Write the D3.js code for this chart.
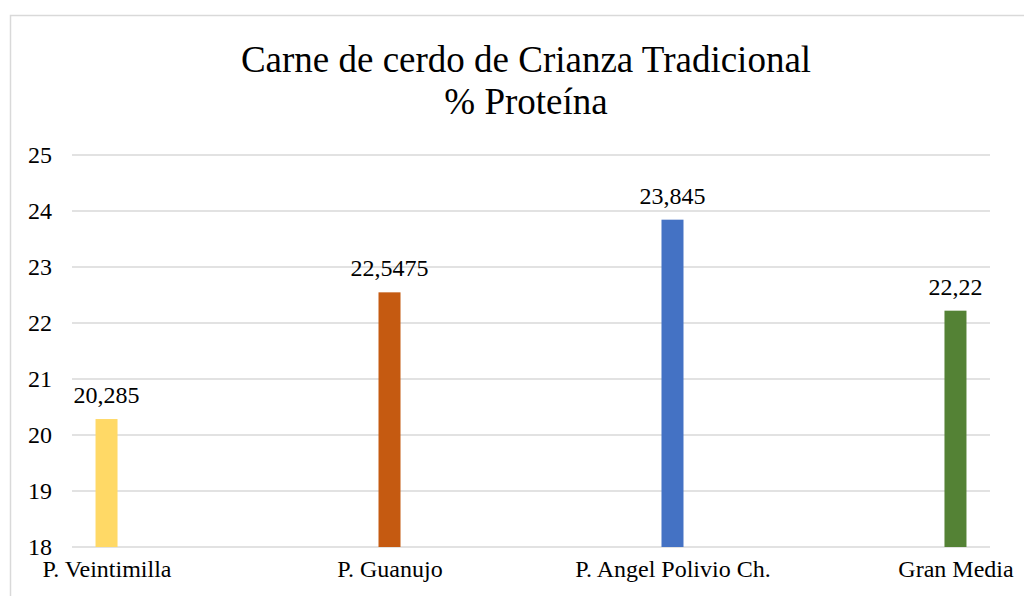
<!DOCTYPE html>
<html>
<head>
<meta charset="utf-8">
<script src="https://cdn.jsdelivr.net/npm/d3@7"></script>
<style>
  html, body { margin: 0; padding: 0; background: #fff; }
  svg text { font-family: "Liberation Serif", "Times New Roman", serif; fill: #000; }
</style>
</head>
<body>
<div id="chart"></div>
<script>
// chart data
const categories = ["P. Veintimilla", "P. Guanujo", "P. Angel Polivio Ch.", "Gran Media"];
const proteina = [20.285, 22.5475, 23.845, 22.22];
const valueLabels = ["20,285", "22,5475", "23,845", "22,22"];
const barColors = ["#FFD966", "#C55A11", "#4472C4", "#548235"];
const yTicks = [18, 19, 20, 21, 22, 23, 24, 25];
const titleLines = ["Carne de cerdo de Crianza Tradicional", "% Proteína"];

const W = 1024, H = 596;
const margin = { top: 155, right: 34, bottom: 49, left: 72 };
const width = W - margin.left - margin.right;
const height = H - margin.top - margin.bottom;
const serif = "'Liberation Serif', 'Times New Roman', serif";

const svg = d3.select("#chart")
    .append("svg")
    .attr("width", W)
    .attr("height", H);

// outer chart border (right and bottom run off the picture)
svg.append("rect")
    .attr("x", 10.5)
    .attr("y", 15.5)
    .attr("width", W + 20)
    .attr("height", H + 20)
    .attr("fill", "none")
    .attr("stroke", "#d9d9d9")
    .attr("stroke-width", 1.5);

// title
svg.append("g")
    .selectAll("text")
    .data(titleLines)
    .enter()
    .append("text")
    .attr("x", 526)
    .attr("y", (d, i) => 72 + i * 42)
    .attr("text-anchor", "middle")
    .style("font-size", "37px")
    .text(d => d);

const g = svg.append("g")
    .attr("transform", `translate(${margin.left},${margin.top})`);

const x = d3.scalePoint()
    .domain(categories)
    .range([0, width])
    .padding(0.122);

const y = d3.scaleLinear()
    .domain([18, 25])
    .range([height, 0]);

// gridlines
g.selectAll(".grid")
    .data(yTicks)
    .enter()
    .append("line")
    .attr("class", "grid")
    .attr("x1", 0)
    .attr("x2", width)
    .attr("y1", d => y(d))
    .attr("y2", d => y(d))
    .attr("stroke", "#d9d9d9")
    .attr("stroke-width", 1.5);

// y axis labels
const yAxis = g.append("g")
    .attr("transform", "translate(-17,0)")
    .call(d3.axisLeft(y).tickValues(yTicks).tickSize(0).tickPadding(3).tickFormat(d3.format("d")));
yAxis.select(".domain").remove();
yAxis.selectAll("text")
    .style("font-family", serif)
    .style("font-size", "24px")
    .attr("fill", "#000");

// x axis labels
const xAxis = g.append("g")
    .attr("transform", `translate(0,${height})`)
    .call(d3.axisBottom(x).tickSize(0).tickPadding(13));
xAxis.select(".domain").remove();
xAxis.selectAll("text")
    .style("font-family", serif)
    .style("font-size", "24px")
    .attr("fill", "#000");

const barW = 22;

// bars
g.selectAll(".bar")
    .data(proteina)
    .enter()
    .append("rect")
    .attr("class", "bar")
    .attr("x", (d, i) => x(categories[i]) - barW / 2)
    .attr("y", d => y(d))
    .attr("width", barW)
    .attr("height", d => height - y(d))
    .attr("fill", (d, i) => barColors[i]);

// value labels
g.selectAll(".vlabel")
    .data(proteina)
    .enter()
    .append("text")
    .attr("class", "vlabel")
    .attr("x", (d, i) => x(categories[i]))
    .attr("y", d => y(d) - 16)
    .attr("text-anchor", "middle")
    .style("font-size", "24px")
    .text((d, i) => valueLabels[i]);
</script>
</body>
</html>
